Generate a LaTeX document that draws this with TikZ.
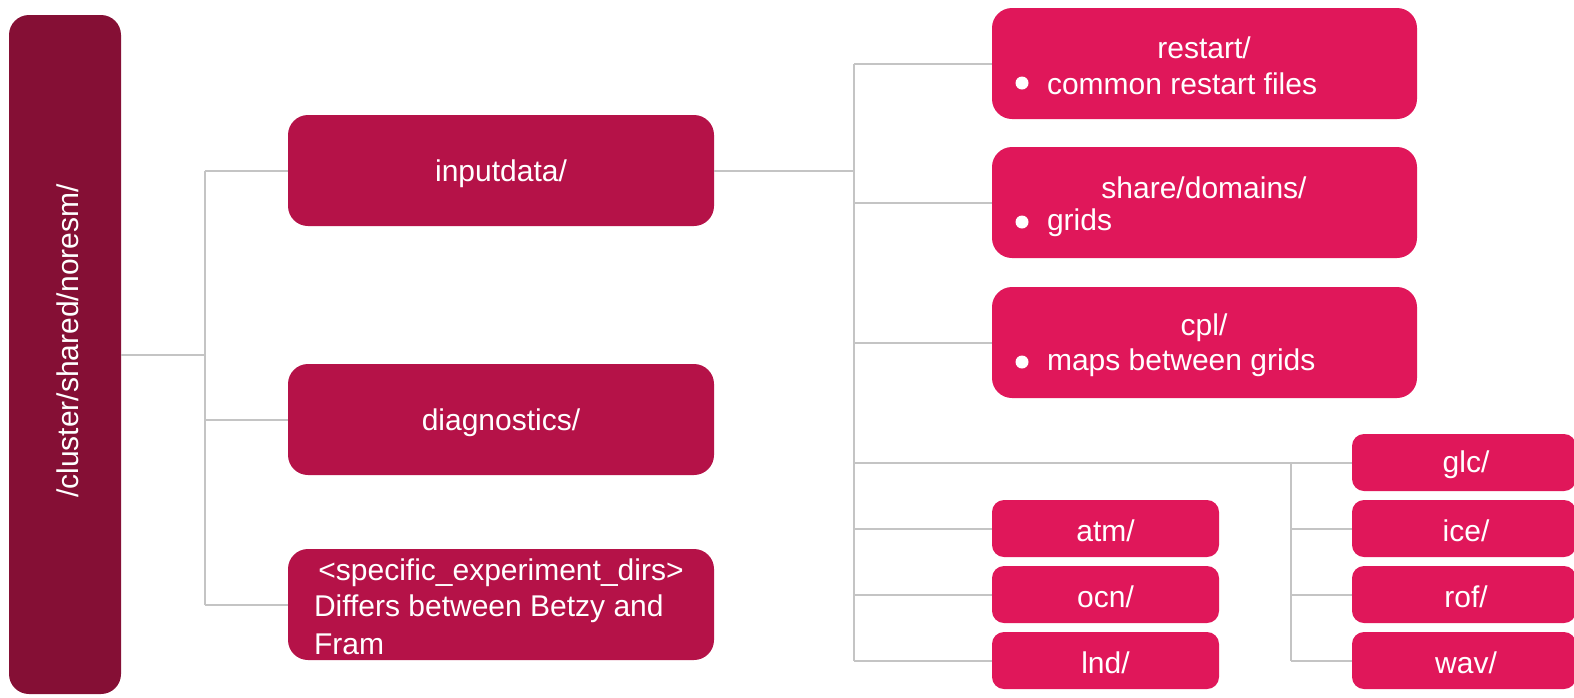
\documentclass[tikz,border=0pt]{standalone}
\usepackage{fontspec}
\setmainfont{Liberation Sans}
\definecolor{rootc}{HTML}{850F35}
\definecolor{midc}{HTML}{B51248}
\definecolor{leafc}{HTML}{E0175A}
\definecolor{linec}{HTML}{C4C4C4}
\begin{document}
\begin{tikzpicture}[x=1pt,y=-1pt,
  every node/.style={inner sep=0pt,outer sep=0pt},
  rootbox/.style={fill=rootc,rounded corners=20pt,minimum width=112pt,minimum height=679pt},
  midbox/.style={fill=midc,rounded corners=20pt,minimum width=426pt,minimum height=111pt},
  leafbox/.style={fill=leafc,rounded corners=20pt,minimum width=425pt,minimum height=111pt},
  smallbox/.style={fill=leafc,rounded corners=12pt},
  atmbox/.style={smallbox,minimum width=227pt,minimum height=57pt},
  glcbox/.style={smallbox,minimum width=224pt,minimum height=57pt},
  txt/.style={text=white,font=\fontsize{30}{36}\selectfont},
  conn/.style={draw=linec,line width=2pt}]
\useasboundingbox (0,0) rectangle (1574,697);
% boxes
\node[rootbox] (root) at (65,354.5) {};
\node[txt,rotate=90] (roottxt) at (68,341) {/cluster/shared/noresm/};
\node[midbox] (inputdata) at (501,170.5) {};
\node[txt] (inputdatat) at (501,174) {inputdata/};
\node[midbox] (diag) at (501,419.5) {};
\node[txt] (diagt) at (501,422.5) {diagnostics/};
\node[midbox] (spec) at (501,604.5) {};
\node[txt] (spect1) at (501,573) {<specific\_experiment\_dirs>};
\node[txt,anchor=west] (spect2) at (314,609) {Differs between Betzy and};
\node[txt,anchor=west] (spect3) at (314,644) {Fram};
\node[leafbox] (restart) at (1204.5,63.5) {};
\node[txt] (restartt) at (1204,48) {restart/};
\fill[white] (1022,83) circle (6.5);
\node[txt,anchor=west] (restartb) at (1047,84) {common restart files};
\node[leafbox] (share) at (1204.5,202.5) {};
\node[txt] (sharet) at (1204,188) {share/domains/};
\fill[white] (1022,222) circle (6.5);
\node[txt,anchor=west] (shareb) at (1047,223) {grids};
\node[leafbox] (cpl) at (1204.5,342.5) {};
\node[txt] (cplt) at (1204,328) {cpl/};
\fill[white] (1022,362) circle (6.5);
\node[txt,anchor=west] (cplb) at (1047,363) {maps between grids};
\node[atmbox] (atm) at (1105.5,528.5) {};
\node[txt] (atmt) at (1105.5,531) {atm/};
\node[atmbox] (ocn) at (1105.5,594.5) {};
\node[txt] (ocnt) at (1105.5,597) {ocn/};
\node[atmbox] (lnd) at (1105.5,660.5) {};
\node[txt] (lndt) at (1105.5,663) {lnd/};
\node[glcbox] (glc) at (1464,462.5) {};
\node[txt] (glct) at (1466,465) {glc/};
\node[glcbox] (ice) at (1464,528.5) {};
\node[txt] (icet) at (1466,531) {ice/};
\node[glcbox] (rof) at (1464,594.5) {};
\node[txt] (roft) at (1466,597) {rof/};
\node[glcbox] (wav) at (1464,660.5) {};
\node[txt] (wavt) at (1466,663) {wav/};
% connectors
\coordinate (j1) at (205,354.5);
\coordinate (j2) at (854,170.5);
\coordinate (j3) at (1291,462.5);
\draw[conn] (root.east) -- (j1);
\draw[conn] (j1 |- inputdata.west) -- (j1 |- spec.west);
\draw[conn] (j1 |- inputdata.west) -- (inputdata.west);
\draw[conn] (j1 |- diag.west) -- (diag.west);
\draw[conn] (j1 |- spec.west) -- (spec.west);
\draw[conn] (inputdata.east) -- (j2);
\draw[conn] (j2 |- restart.west) -- (j2 |- lnd.west);
\draw[conn] (j2 |- restart.west) -- (restart.west);
\draw[conn] (j2 |- share.west) -- (share.west);
\draw[conn] (j2 |- cpl.west) -- (cpl.west);
\draw[conn] (j2 |- glc.west) -- (glc.west);
\draw[conn] (j2 |- atm.west) -- (atm.west);
\draw[conn] (j2 |- ocn.west) -- (ocn.west);
\draw[conn] (j2 |- lnd.west) -- (lnd.west);
\draw[conn] (j3) -- (j3 |- wav.west);
\draw[conn] (j3 |- ice.west) -- (ice.west);
\draw[conn] (j3 |- rof.west) -- (rof.west);
\draw[conn] (j3 |- wav.west) -- (wav.west);
\end{tikzpicture}
\end{document}
